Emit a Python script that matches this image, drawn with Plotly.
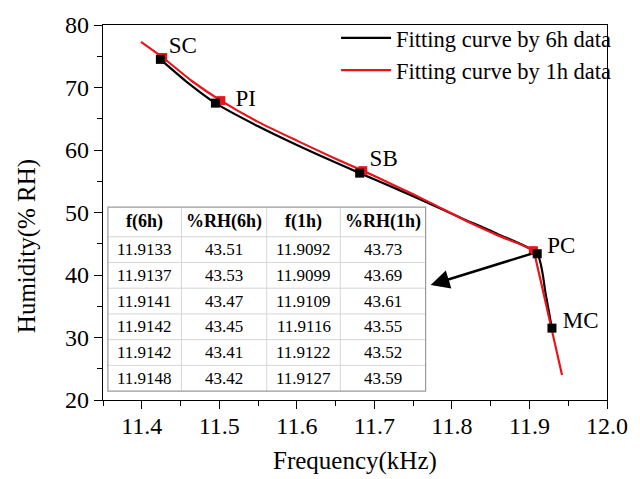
import plotly.graph_objects as go

# Fitted humidity-frequency curves
fit6h_freq = [11.424, 11.46, 11.495, 11.55, 11.60, 11.65, 11.681, 11.73, 11.77, 11.816, 11.86, 11.910, 11.921, 11.929]
fit6h_rh = [74.5, 70.7, 67.5, 63.8, 60.8, 58.0, 56.3, 53.7, 51.5, 48.9, 46.5, 43.4, 36.9, 31.4]

fit1h_freq = [11.399, 11.427, 11.465, 11.502, 11.55, 11.60, 11.65, 11.685, 11.73, 11.77, 11.816, 11.86, 11.905, 11.908, 11.925, 11.942]
fit1h_rh = [77.3, 74.8, 71.0, 67.9, 64.5, 61.5, 58.6, 56.7, 54.1, 51.7, 48.8, 46.3, 43.9, 42.6, 33.3, 24.0]

# Calibration points (saturated salt solutions)
salt_names = ["SC", "PI", "SB", "PC", "MC"]
pts6h_freq = [11.424, 11.495, 11.681, 11.910, 11.929]
pts6h_rh = [74.5, 67.5, 56.3, 43.4, 31.5]
pts1h_freq = [11.427, 11.502, 11.685, 11.905]
pts1h_rh = [74.8, 67.9, 56.7, 43.9]
label_freq = [11.453, 11.534, 11.712, 11.941, 11.966]
label_rh = [76.4, 68.0, 58.4, 44.5, 32.5]

# Repeated PC measurements
tbl_header = ["f(6h)", "%RH(6h)", "f(1h)", "%RH(1h)"]
f_6h = ["11.9133", "11.9137", "11.9141", "11.9142", "11.9142", "11.9148"]
rh_6h = ["43.51", "43.53", "43.47", "43.45", "43.41", "43.42"]
f_1h = ["11.9092", "11.9099", "11.9109", "11.9116", "11.9122", "11.9127"]
rh_1h = ["43.73", "43.69", "43.61", "43.55", "43.52", "43.59"]

serif = "Liberation Serif"

# plot-area geometry in pixels (used to place the inset table)
FIG_W, FIG_H = 640, 479
M_L, M_R, M_T, M_B = 103, 23, 21, 79
PLOT_W = FIG_W - M_L - M_R
PLOT_H = FIG_H - M_T - M_B


def px_to_paper_x(px):
    return (px - M_L) / PLOT_W


def px_to_paper_y(py):
    return (FIG_H - M_B - py) / PLOT_H


fig = go.Figure()

fig.add_trace(go.Scatter(
    x=fit6h_freq, y=fit6h_rh, mode="lines",
    line=dict(color="black", width=2.2, shape="spline", smoothing=0.6),
    name="Fitting curve by 6h data",
))
fig.add_trace(go.Scatter(
    x=fit1h_freq, y=fit1h_rh, mode="lines",
    line=dict(color="#e8141b", width=2.2, shape="spline", smoothing=0.6),
    name="Fitting curve by 1h data",
))
fig.add_trace(go.Scatter(
    x=pts1h_freq, y=pts1h_rh, mode="markers",
    marker=dict(symbol="square", size=9, color="#e8141b"),
    showlegend=False,
))
fig.add_trace(go.Scatter(
    x=pts6h_freq, y=pts6h_rh, mode="markers",
    marker=dict(symbol="square", size=9, color="black"),
    showlegend=False,
))
fig.add_trace(go.Scatter(
    x=label_freq, y=label_rh, mode="text", text=salt_names,
    textfont=dict(family=serif, size=23, color="black"),
    showlegend=False,
))

# Inset table: grid lines and cell text
col_edges = [108, 183, 270, 345, 432]
row_edges = [205, 235, 261, 287, 313, 339, 365, 391]
columns = [f_6h, rh_6h, f_1h, rh_1h]

inner = dict(color="#d6d6d6", width=1)
for cx in col_edges[1:-1]:
    fig.add_shape(type="line", xref="paper", yref="paper",
                  x0=px_to_paper_x(cx), x1=px_to_paper_x(cx),
                  y0=px_to_paper_y(row_edges[0]), y1=px_to_paper_y(row_edges[-1]),
                  line=inner)
for ry in row_edges[1:-1]:
    fig.add_shape(type="line", xref="paper", yref="paper",
                  x0=px_to_paper_x(col_edges[0]), x1=px_to_paper_x(col_edges[-1]),
                  y0=px_to_paper_y(ry), y1=px_to_paper_y(ry),
                  line=inner)
fig.add_shape(type="rect", xref="paper", yref="paper",
              x0=px_to_paper_x(col_edges[0]), x1=px_to_paper_x(col_edges[-1]),
              y0=px_to_paper_y(row_edges[-1]), y1=px_to_paper_y(row_edges[0]),
              line=dict(color="#9a9a9a", width=1.2), fillcolor="rgba(0,0,0,0)")

for ci, head in enumerate(tbl_header):
    cx = (col_edges[ci] + col_edges[ci + 1]) / 2
    cy = (row_edges[0] + row_edges[1]) / 2
    fig.add_annotation(x=px_to_paper_x(cx), y=px_to_paper_y(cy), xref="paper", yref="paper",
                       text="<b>%s</b>" % head, showarrow=False,
                       font=dict(family=serif, size=18, color="black"),
                       xanchor="center", yanchor="middle")
    for ri, val in enumerate(columns[ci]):
        cy = (row_edges[ri + 1] + row_edges[ri + 2]) / 2
        fig.add_annotation(x=px_to_paper_x(cx), y=px_to_paper_y(cy), xref="paper", yref="paper",
                           text=val, showarrow=False,
                           font=dict(family=serif, size=17, color="black"),
                           xanchor="center", yanchor="middle")

# Arrow from PC to the table
fig.add_annotation(
    x=11.7726, y=38.4, ax=11.904, ay=43.45,
    xref="x", yref="y", axref="x", ayref="y",
    showarrow=True, arrowhead=2, arrowsize=1.5, arrowwidth=2.5,
    arrowcolor="black", text="",
)

# Axis titles
fig.add_annotation(
    x=px_to_paper_x(360), y=px_to_paper_y(462), xref="paper", yref="paper",
    text="Frequency(kHz)", showarrow=False,
    font=dict(family=serif, size=25, color="black"),
    xanchor="center", yanchor="middle",
)
fig.add_annotation(
    x=px_to_paper_x(25), y=px_to_paper_y(245), xref="paper", yref="paper",
    text="Humidity(% RH)", showarrow=False, textangle=-90,
    font=dict(family=serif, size=25, color="black"),
    xanchor="center", yanchor="middle",
)

axis_common = dict(
    showgrid=False, zeroline=False,
    showline=True, linecolor="black", linewidth=1.4, mirror=True,
    ticks="outside", ticklen=8, tickwidth=1.4, tickcolor="black",
    tickfont=dict(family=serif, size=24, color="black"),
)

fig.update_xaxes(
    range=[11.35, 12.0], tick0=11.4, dtick=0.1, tickformat=".1f",
    ticklabelstandoff=-4,
    minor=dict(ticks="outside", ticklen=5, tickwidth=1.4, tickcolor="black", dtick=0.05, tick0=11.35),
    **axis_common,
)
fig.update_yaxes(
    range=[20, 80], tick0=20, dtick=10,
    minor=dict(ticks="outside", ticklen=5, tickwidth=1.4, tickcolor="black", dtick=5),
    **axis_common,
)

fig.update_layout(
    width=FIG_W, height=FIG_H,
    margin=dict(l=M_L, r=M_R, t=M_T, b=M_B),
    paper_bgcolor="white", plot_bgcolor="white",
    font=dict(family=serif, color="black"),
    showlegend=True,
    legend=dict(
        x=1.018, y=1.022, xanchor="right", yanchor="top",
        font=dict(family=serif, size=22.5, color="black"),
        bgcolor="rgba(0,0,0,0)", borderwidth=0,
        itemwidth=50, tracegroupgap=0,
    ),
    hovermode=False,
)

fig.write_html("out.html", config=dict(displayModeBar=False))
